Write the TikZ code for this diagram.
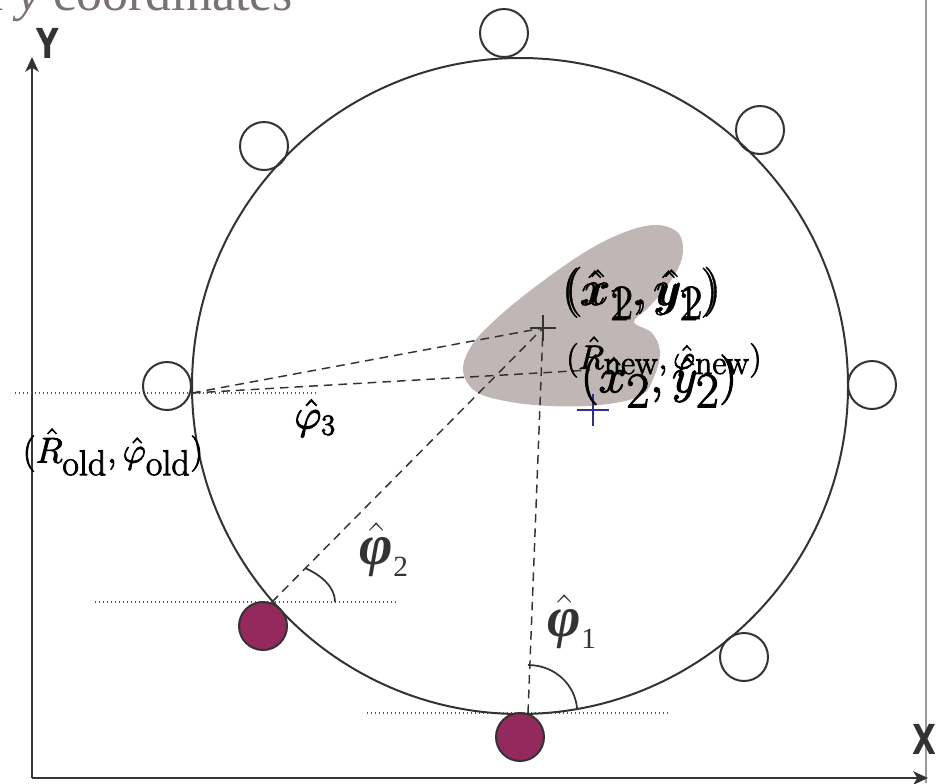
\RequirePackage{fix-cm}
\documentclass[tikz,border=0pt]{standalone}
\usepackage{fontspec}
\newfontfamily\tms{Liberation Serif}
\newfontfamily\dvs{DejaVu Sans}
\usetikzlibrary{arrows.meta}
\definecolor{ink}{HTML}{333333}
\definecolor{blobc}{HTML}{BFB6B5}
\definecolor{berry}{HTML}{93295C}
\definecolor{navy}{HTML}{2E3192}
\definecolor{titlec}{HTML}{7A7078}
\definecolor{framec}{HTML}{9A9A9A}
\definecolor{dotc}{HTML}{555555}
\newcommand\heavytext[2]{\special{pdf:code #1 w 2 Tr}#2\special{pdf:code 0 Tr}}
\begin{document}
\begin{tikzpicture}[x=0.75pt, y=-0.75pt,
  ring/.style={draw=ink, line width=1.5pt},
  smallc/.style={circle, draw=ink, line width=1.5pt, minimum size=36pt, inner sep=0pt},
  filledc/.style={smallc, fill=berry},
  dashln/.style={draw=ink, line width=1.1pt, dash pattern=on 6.5pt off 4.5pt},
  dotln/.style={draw=dotc, line width=0.9pt, dash pattern=on 0.9pt off 2.1pt},
  axisln/.style={draw=ink, line width=1.6pt, -{Stealth[length=11pt,width=10pt,inset=3pt]}},
  mlabel/.style={inner sep=0pt, text=black},
  philab/.style={inner sep=0pt, text=ink, font=\tms\fontsize{43}{45}\selectfont},
  axlab/.style={inner sep=0pt, text=ink, font=\dvs\bfseries\fontsize{31}{34}\selectfont}
]
\useasboundingbox (0,0) rectangle (942,783);
\clip (0,0) rectangle (942,783);

% title (cut at the top edge)
\node[anchor=base west, inner sep=0pt, text=titlec, font=\tms\fontsize{39}{40}\selectfont] (title) at (-19,10) {\textit{x} \textit{y} coordinates};

% right frame line
\coordinate (ft) at (926,0);
\coordinate (fb) at (926,783);
\draw[framec, line width=1.6pt] (ft) -- (fb);

% axes
\coordinate (o) at (32,778);
\coordinate (ytip) at (32,57);
\coordinate (xtip) at (928,778);
\draw[axisln] (o) -- (ytip);
\draw[axisln, line width=2pt] (o) -- (xtip);
\node[axlab] (ylab) at (48,43) {\scalebox{0.75}[1]{Y}};
\node[axlab] (xlab) at (924,739) {\scalebox{0.75}[1]{X}};

% grey blob
\fill[blobc] plot[smooth cycle, tension=0.6] coordinates {
  (657,225) (679,234) (682,258) (668,285) (648,308) (634,322) (652,333)
  (660,352) (654,377) (640,396) (600,405) (550,406) (505,401) (475,391)
  (463,370) (472,345) (495,320) (535,287) (585,252) (625,232)};

% dotted reference lines
\coordinate (d1a) at (15,393);  \coordinate (d1b) at (317,393);
\coordinate (d2a) at (95,602);  \coordinate (d2b) at (397,602);
\coordinate (d3a) at (367,713); \coordinate (d3b) at (668,713);
\draw[dotln] (d1a) -- (d1b);
\draw[dotln] (d2a) -- (d2b);
\draw[dotln] (d3a) -- (d3b);

% key points
\coordinate (p1) at (543,328);
\coordinate (p2) at (593,410);
\coordinate (lp) at (192,393);
\coordinate (pn) at (590,370);
\coordinate (fp) at (272,602);
\coordinate (bp) at (528,713);

% dashed lines
\draw[dashln] (lp) -- (p1);
\draw[dashln] (lp) -- (pn);
\draw[dashln] (fp) -- (p1);
\draw[dashln] (bp) -- (p1);

% big circle
\draw[ring] (520,386) circle[radius=328];

% small circles
\node[smallc] (ctop) at (504,33) {};
\node[smallc] (cul) at (264,146) {};
\node[smallc] (cur) at (760,130) {};
\node[smallc] (cl) at (167,386) {};
\node[smallc] (cr) at (872,385) {};
\node[smallc] (clr) at (744,657) {};
\node[filledc] (f1) at (263,626) {};
\node[filledc] (f2) at (520,737) {};

% angle arcs
\draw[ink, line width=1.3pt] (335,602) .. controls (335,588) and (323,576) .. (305,568);
\draw[ink, line width=1.3pt] (528,665) .. controls (555,665) and (575,685) .. (577,708);

% crosses
\draw[ink, line width=1.6pt] (p1) +(-13,0) -- +(13,0) (p1) +(0,-13) -- +(0,13);
\draw[navy, line width=2.2pt] (p2) +(-16,0) -- +(16,0) (p2) +(0,-16) -- +(0,16);

% labels
\node[mlabel, font=\fontsize{37.5}{40}\selectfont] (lx1) at (640,294) {\heavytext{0.3}{$(\hat x_{\textstyle 1},\hat y_{\textstyle 1})$}};
\node[mlabel, font=\fontsize{37.5}{40}\selectfont] (lx1b) at (643,293) {\heavytext{0.3}{$(\hat x_{\textstyle 2},\hat y_{\textstyle 2})$}};
\node[mlabel, font=\fontsize{37.5}{40}\selectfont] (lx2) at (659,381) {\heavytext{0.8}{$(\hat x_{\textstyle 2},\hat y_{\textstyle 2})$}};
\node[mlabel, font=\fontsize{25.5}{27}\selectfont] (lnew) at (664,357) {\heavytext{0.6}{$(\hat R_{\textstyle\mathrm{new}},\hat\varphi_{\textstyle\mathrm{new}})$}};
\node[mlabel, font=\fontsize{27}{29}\selectfont] (lold) at (113,452) {\heavytext{0.6}{$(\hat R_{\textstyle\mathrm{old}},\hat\varphi_{\textstyle\mathrm{old}})$}};
\node[mlabel, font=\fontsize{31.5}{33}\selectfont] (lphi3) at (315,418) {\heavytext{0.8}{$\hat\varphi_3$}};
\node[philab] (lphi2) at (384,550) {$\hat{\mbox{\bfseries\itshape φ}}$\raisebox{-0.2em}{\fontsize{22}{22}\selectfont 2}};
\node[philab] (lphi1) at (572,622) {$\hat{\mbox{\bfseries\itshape φ}}$\raisebox{-0.2em}{\fontsize{22}{22}\selectfont 1}};
\end{tikzpicture}
\end{document}
